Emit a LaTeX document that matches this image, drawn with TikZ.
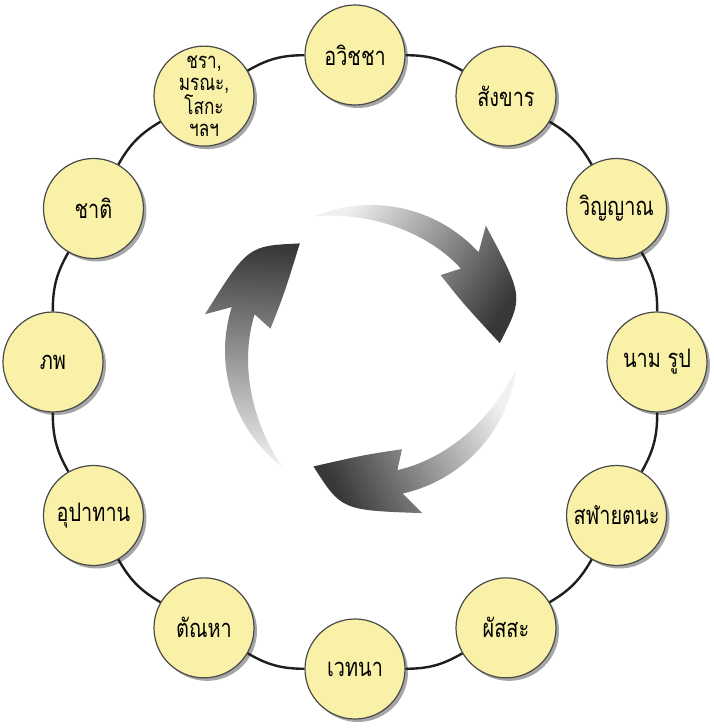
\documentclass[tikz,border=0pt]{standalone}
\usepackage{fontspec}
\newfontfamily\thaifont[Script=Thai, FakeStretch=0.78]{Loma}
\usetikzlibrary{shadows}
\definecolor{nodefill}{HTML}{FAF1A8}
\definecolor{nodeedge}{HTML}{4A4A4A}
\definecolor{ringline}{HTML}{1E1E1E}
\newcommand{\cyclearrow}[2]{%
  \pgfmathsetmacro{\Ta}{#1}%
  \pgfmathsetmacro{\Ba}{#1-70}%
  \pgfmathsetmacro{\Bb}{#1-65}%
  \pgfmathsetmacro{\Pa}{#1-109}%
  \pgfmathsetmacro{\Ca}{#1-93}%
  \pgfmathsetmacro{\Cb}{#1-86}%
  \shade[top color=black!6, middle color=black!38, bottom color=black!78, shading angle=#2]
    (\Ta:146) arc[start angle=\Ta, end angle=\Ba, radius=146]
    -- (\Bb:170) .. controls (\Ca:162) .. (\Pa:129)
    .. controls (\Cb:104) .. (\Bb:103)
    -- (\Ba:122)
    -- plot[domain=\Ba:\Ta, samples=40] (\x:{122+24*((\x-\Ba)/70)*((\x-\Ba)/70)*sqrt((\x-\Ba)/70)})
    -- cycle;
}
\begin{document}
\begin{tikzpicture}[x=1pt,y=1pt,
  stage/.style={circle, minimum size=100pt, inner sep=0pt, fill=nodefill, draw=nodeedge, line width=1.2pt,
    font=\thaifont\fontsize{25.5}{26}\selectfont, align=center,
    drop shadow={shadow xshift=3pt, shadow yshift=-3pt, opacity=0.35, fill=black}},
  ring/.style={draw=ringline, line width=2.4pt}]
\useasboundingbox (0,0) rectangle (713,728);
\fill[white] (0,0) rectangle (713,728);
% central cycle arrows
\begin{scope}[shift={(371,377)}]
  \cyclearrow{112.5}{57}
  \cyclearrow{-7.5}{-63}
  \cyclearrow{232.5}{177}
\end{scope}
% stages
\node[stage] (n90)  at ({355+302*cos(90)},{366+307*sin(90)}) {อวิชชา};
\node[stage] (n60)  at ({355+302*cos(60)},{366+307*sin(60)}) {สังขาร};
\node[stage] (n30)  at ({355+302*cos(30)},{366+307*sin(30)}) {วิญญาณ};
\node[stage] (n0)   at ({355+302*cos(0)},{366+307*sin(0)}) {นาม รูป};
\node[stage] (nm30) at ({355+302*cos(-30)},{366+307*sin(-30)}) {สฬายตนะ};
\node[stage] (nm60) at ({355+302*cos(-60)},{366+307*sin(-60)}) {ผัสสะ};
\node[stage] (nm90) at ({355+302*cos(-90)},{366+307*sin(-90)}) {เวทนา};
\node[stage] (nm120) at ({355+302*cos(-120)},{366+307*sin(-120)}) {ตัณหา};
\node[stage] (nm150) at ({355+302*cos(-150)},{366+307*sin(-150)}) {อุปาทาน};
\node[stage] (n180) at ({355+302*cos(180)},{366+307*sin(180)}) {ภพ};
\node[stage] (n150) at ({355+302*cos(150)},{366+307*sin(150)}) {ชาติ};
\node[stage, font=\thaifont\fontsize{22}{22}\selectfont] (n120) at ({355+302*cos(120)},{366+307*sin(120)}) {ชรา,\\มรณะ,\\โสกะ\\ฯลฯ};
% ring connectors
\draw[ring] (n90) to[bend left=15] (n60);
\draw[ring] (n60) to[bend left=15] (n30);
\draw[ring] (n30) to[bend left=15] (n0);
\draw[ring] (n0) to[bend left=15] (nm30);
\draw[ring] (nm30) to[bend left=15] (nm60);
\draw[ring] (nm60) to[bend left=15] (nm90);
\draw[ring] (nm90) to[bend left=15] (nm120);
\draw[ring] (nm120) to[bend left=15] (nm150);
\draw[ring] (nm150) to[bend left=15] (n180);
\draw[ring] (n180) to[bend left=15] (n150);
\draw[ring] (n150) to[bend left=15] (n120);
\draw[ring] (n120) to[bend left=15] (n90);
\end{tikzpicture}
\end{document}
